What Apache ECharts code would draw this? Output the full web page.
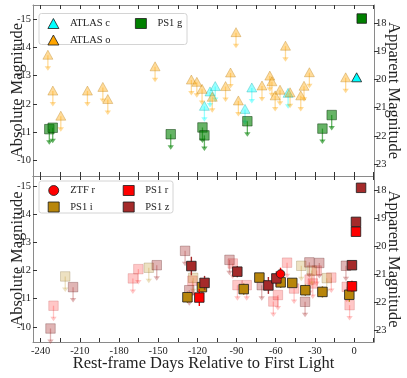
<!DOCTYPE html>
<html>
<head>
<meta charset="utf-8">
<title>Light curve</title>
<script src="https://cdn.jsdelivr.net/npm/echarts@6/dist/echarts.min.js"></script>
<style>
  html, body { margin: 0; padding: 0; background: #fff; }
  #chart { width: 407px; height: 378px; }
</style>
</head>
<body>
<div id="chart"></div>
<script>
// ---- data: rest-frame days, absolute magnitude ----
// top panel
var atlasOLimDays = [-234.5, -230.7, -224.6, -204.2, -192.4, -188.6, -152.4, -124.6, -120.4, -116.4, -108.6, -98.4, -94.6, -90.4, -88.6, -70.5, -64.5, -62.9, -60.4, -56.7, -52.5, -49.0, -40.8, -38.3, -34.2, -6.4];
var atlasOLimMag  = [-13.72, -12.45, -11.56, -12.45, -12.58, -12.15, -13.31, -12.84, -12.76, -12.51, -12.23, -12.61, -13.09, -14.52, -12.10, -12.63, -12.98, -12.78, -12.28, -12.48, -14.04, -12.39, -12.28, -12.62, -13.10, -12.92];
var atlasCLimDays = [-114.6, -110.3, -106.3, -83.5, -78.3, -50.5];
var atlasCLimMag  = [-11.91, -12.42, -12.61, -11.80, -12.56, -12.37];
var atlasCDetDays = [2.0];
var atlasCDetMag  = [-12.92];
var ps1gLimDays = [-233.4, -230.8, -140.4, -116.1, -114.6, -81.7, -24.2, -17.1];
var ps1gLimMag  = [-11.10, -11.15, -10.92, -11.16, -10.88, -11.38, -11.12, -11.60];
var ps1gDetDays = [5.9];
var ps1gDetMag  = [-15.02];

// bottom panel
var ps1rLimDays = [-230.2, -169.4, -165.2, -123.8, -92.9, -89.3, -82.2, -61.8, -58.3, -51.3, -45.9, -31.6, -28.6, -34.0, -17.4, -5.6, -3.4];
var ps1rLimMag  = [-10.75, -11.72, -12.05, -11.64, -12.25, -11.48, -11.48, -10.90, -11.13, -12.28, -11.36, -11.54, -12.00, -11.68, -11.75, -11.42, -10.77];
var ps1zLimDays = [-232.5, -215.2, -151.1, -129.4, -126.2, -95.4, -70.7, -37.5, -34.2, -26.6, -6.2];
var ps1zLimMag  = [-9.94, -11.41, -12.19, -12.70, -11.30, -12.38, -11.48, -10.89, -12.29, -12.27, -12.17];
var ps1iLimDays = [-221.2, -157.2, -123.2, -40.4, -32.4, -20.9];
var ps1iLimMag  = [-11.79, -12.10, -11.74, -12.17, -12.00, -11.73];
var ps1iDetDays = [-127.6, -116.5, -84.5, -72.5, -56.2, -47.3, -37.3, -24.2, -3.6];
var ps1iDetMag  = [-11.05, -11.41, -11.34, -11.75, -11.58, -11.56, -11.30, -11.24, -11.14];
var ps1iDetErr  = [0.20, 0.20, 0.20, 0.15, 0.20, 0.15, 0.20, 0.20, 0.25];
var ps1zDetDays = [-124.6, -114.5, -89.4, -65.6, -59.5, -1.6, 1.5, 5.4];
var ps1zDetMag  = [-12.16, -11.56, -11.96, -11.47, -11.72, -12.19, -13.73, -14.94];
var ps1zDetErr  = [0.33, 0.25, 0.20, 0.30, 0.25, 0.15, 0.05, 0.05];
var ps1rDetDays = [-118.5, -1.6, 1.5];
var ps1rDetMag  = [-11.04, -11.44, -13.38];
var ps1rDetErr  = [0.30, 0.20, 0.05];
var ztfrDetDays = [-56.3];
var ztfrDetMag  = [-11.88];
var ztfrDetErr  = [0.22];

// axes
var dayTicks  = [-240, -225, -210, -195, -180, -165, -150, -135, -120, -105, -90, -75, -60, -45, -30, -15, 0, 15];
var dayLabels = [-240, -210, -180, -150, -120, -90, -60, -30, 0];
var absTicks  = [-15, -14, -13, -12, -11, -10];
var appTicks  = [18, 19, 20, 21, 22, 23];
var distMod = 32.86;

var FONT = '"Liberation Serif", "DejaVu Serif", serif';
var ARROW = 0.55;

function pts(days, mags, errs) {
    return days.map(function (d, i) { return [d, mags[i], errs ? errs[i] : 0]; });
}

function marker(shape, p, s, fill, stroke, alpha, lw) {
    var st = { fill: fill, stroke: stroke, lineWidth: lw, opacity: alpha };
    if (shape === 'tri') {
        return { type: 'polygon', shape: { points: [[p[0], p[1] - s / 2], [p[0] - s / 2, p[1] + s / 2 - 1], [p[0] + s / 2, p[1] + s / 2 - 1]] }, style: st };
    }
    if (shape === 'circ') {
        return { type: 'circle', shape: { cx: p[0], cy: p[1], r: s / 2 }, style: st };
    }
    return { type: 'rect', shape: { x: p[0] - s / 2, y: p[1] - s / 2, width: s, height: s }, style: st };
}

// upper limits: marker plus downward arrow
function limits(name, panel, days, mags, shape, size, fill, stroke, alpha) {
    return {
        type: 'custom', name: name, xAxisIndex: panel * 2, yAxisIndex: panel * 2,
        data: pts(days, mags), z: 2,
        renderItem: function (params, api) {
            var p = api.coord([api.value(0), api.value(1)]);
            var q = api.coord([api.value(0), api.value(1) + ARROW]);
            return {
                type: 'group',
                children: [
                    { type: 'line', shape: { x1: p[0], y1: p[1], x2: q[0], y2: q[1] - 3 }, style: { stroke: fill, lineWidth: 1.3, opacity: alpha } },
                    { type: 'polygon', shape: { points: [[q[0] - 3.2, q[1] - 4.5], [q[0] + 3.2, q[1] - 4.5], [q[0], q[1]]] }, style: { fill: fill, opacity: alpha } },
                    marker(shape, p, size, fill, stroke, alpha, 0.8)
                ]
            };
        }
    };
}

// detections: marker plus error bar
function detections(name, panel, days, mags, errs, shape, size, fill) {
    return {
        type: 'custom', name: name, xAxisIndex: panel * 2, yAxisIndex: panel * 2,
        data: pts(days, mags, errs), z: 3,
        renderItem: function (params, api) {
            var x = api.value(0), m = api.value(1), e = api.value(2);
            var p = api.coord([x, m]);
            var a = api.coord([x, m - e]);
            var b = api.coord([x, m + e]);
            return {
                type: 'group',
                children: [
                    { type: 'line', shape: { x1: a[0], y1: a[1], x2: b[0], y2: b[1] }, style: { stroke: fill, lineWidth: 1.4 } },
                    marker(shape, p, size, fill, '#1a1a1a', 1, 0.8)
                ]
            };
        }
    };
}

var grids = [
    { left: 33, top: 5, width: 341, height: 171, containLabel: false, outerBoundsMode: 'none' },
    { left: 33, top: 176, width: 341, height: 166, containLabel: false, outerBoundsMode: 'none' }
];
var yRanges = [[-15.5, -9.44], [-15.36, -9.46]];

function xAxisFor(panel, pos, showLabels) {
    return {
        type: 'value', gridIndex: panel, position: pos,
        min: -245.9, max: 15.3,
        axisLine: { show: true, onZero: false, lineStyle: { color: '#8a8a8a', width: 1 } },
        axisTick: { show: true, inside: true, length: 4, customValues: dayTicks, lineStyle: { color: '#333', width: 1 } },
        axisLabel: { show: showLabels, customValues: dayLabels, showMinLabel: true, showMaxLabel: true, hideOverlap: false, fontFamily: FONT, fontSize: 10.5, color: '#222', margin: 4 },
        splitLine: { show: false },
        name: showLabels ? 'Rest-frame Days Relative to First Light' : '',
        nameLocation: 'middle', nameGap: 13, nameMoveOverlap: false,
        nameTextStyle: { fontFamily: FONT, fontSize: 16.5, color: '#222' }
    };
}

function yAxesFor(panel) {
    var r = yRanges[panel];
    return [{
        type: 'value', gridIndex: panel, position: 'left', inverse: true,
        min: r[0], max: r[1],
        axisLine: { show: true, onZero: false, lineStyle: { color: '#8a8a8a', width: 1 } },
        axisTick: { show: true, inside: true, length: 4, customValues: absTicks, lineStyle: { color: '#333' } },
        axisLabel: { customValues: absTicks, showMinLabel: true, showMaxLabel: true, hideOverlap: false, fontFamily: FONT, fontSize: 10.5, color: '#222', margin: 2 },
        splitLine: { show: false },
        name: 'Absolute Magnitude', nameLocation: 'middle', nameGap: 7, nameMoveOverlap: false,
        nameTextStyle: { fontFamily: FONT, fontSize: 16.5, color: '#222' }
    }, {
        type: 'value', gridIndex: panel, position: 'right', inverse: true,
        min: r[0] + distMod, max: r[1] + distMod,
        axisLine: { show: true, onZero: false, lineStyle: { color: '#8a8a8a', width: 1 } },
        axisTick: { show: true, inside: false, length: 4, customValues: appTicks, lineStyle: { color: '#333' } },
        axisLabel: { customValues: appTicks, showMinLabel: true, showMaxLabel: true, hideOverlap: false, fontFamily: FONT, fontSize: 10.5, color: '#222', margin: 2 },
        splitLine: { show: false },
        name: 'Apparent Magnitude', nameLocation: 'middle', nameGap: 11, nameRotate: -90, nameMoveOverlap: false,
        nameTextStyle: { fontFamily: FONT, fontSize: 16.5, color: '#222' }
    }];
}

var legendText = { fontFamily: FONT, fontSize: 10.5, color: '#222', padding: [0, 0, 0, 6] };
function legend(left, top, items) {
    return {
        orient: 'vertical', left: left, top: top, padding: 0,
        itemWidth: 11, itemHeight: 10, itemGap: 5.5,
        textStyle: legendText, selectedMode: false,
        data: items
    };
}
function legItem(name, icon, color) {
    return { name: name, icon: icon, itemStyle: { color: color, borderColor: '#1a1a1a', borderWidth: 0.8, opacity: 1 } };
}

var option = {
    animation: false,
    backgroundColor: '#fff',
    grid: grids,
    xAxis: [xAxisFor(0, 'bottom', false), xAxisFor(0, 'top', false), xAxisFor(1, 'bottom', true), xAxisFor(1, 'top', false)],
    yAxis: yAxesFor(0).concat(yAxesFor(1)),
    legend: [
        legend(47.5, 18, [legItem('ATLAS c', 'triangle', '#00FFFF'), legItem('ATLAS o', 'triangle', '#FFA500')]),
        legend(135, 18, [legItem('PS1 g', 'rect', '#008000')]),
        legend(47.8, 185, [legItem('ZTF r', 'circle', '#FF0000'), legItem('PS1 i', 'rect', '#B8860B')]),
        legend(122.8, 185, [legItem('PS1 r', 'rect', '#FF0000'), legItem('PS1 z', 'rect', '#A52A2A')])
    ],
    graphic: [
        { type: 'rect', z: 3, shape: { x: 39, y: 13.5, width: 148, height: 31, r: 2.5 }, style: { fill: 'rgba(255,255,255,0.8)', stroke: '#d4d4d4', lineWidth: 1 } },
        { type: 'rect', z: 3, shape: { x: 39, y: 181, width: 134, height: 32, r: 2.5 }, style: { fill: 'rgba(255,255,255,0.8)', stroke: '#d4d4d4', lineWidth: 1 } }
    ],
    series: [
        limits('ATLAS c', 0, atlasCLimDays, atlasCLimMag, 'tri', 10, '#00FFFF', '#00a0a0', 0.4),
        limits('ATLAS o', 0, atlasOLimDays, atlasOLimMag, 'tri', 10, '#FFA500', '#b07000', 0.4),
        limits('PS1 g', 0, ps1gLimDays, ps1gLimMag, 'sq', 9.5, '#008000', '#003000', 0.6),
        detections('ATLAS c', 0, atlasCDetDays, atlasCDetMag, [0], 'tri', 10, '#00FFFF'),
        detections('PS1 g', 0, ps1gDetDays, ps1gDetMag, [0], 'sq', 9.5, '#008000'),

        limits('PS1 r', 1, ps1rLimDays, ps1rLimMag, 'sq', 9.5, '#FF0000', '#a00000', 0.22),
        limits('PS1 i', 1, ps1iLimDays, ps1iLimMag, 'sq', 9.5, '#B8860B', '#604000', 0.25),
        limits('PS1 z', 1, ps1zLimDays, ps1zLimMag, 'sq', 9.5, '#A52A2A', '#501010', 0.35),
        detections('PS1 i', 1, ps1iDetDays, ps1iDetMag, ps1iDetErr, 'sq', 9.5, '#B8860B'),
        detections('PS1 z', 1, ps1zDetDays, ps1zDetMag, ps1zDetErr, 'sq', 9.5, '#A52A2A'),
        detections('PS1 r', 1, ps1rDetDays, ps1rDetMag, ps1rDetErr, 'sq', 9.5, '#FF0000'),
        detections('ZTF r', 1, ztfrDetDays, ztfrDetMag, ztfrDetErr, 'circ', 8.5, '#FF0000')
    ]
};

var chart = echarts.init(document.getElementById('chart'), null, { renderer: 'canvas' });
chart.setOption(option);
</script>
</body>
</html>
